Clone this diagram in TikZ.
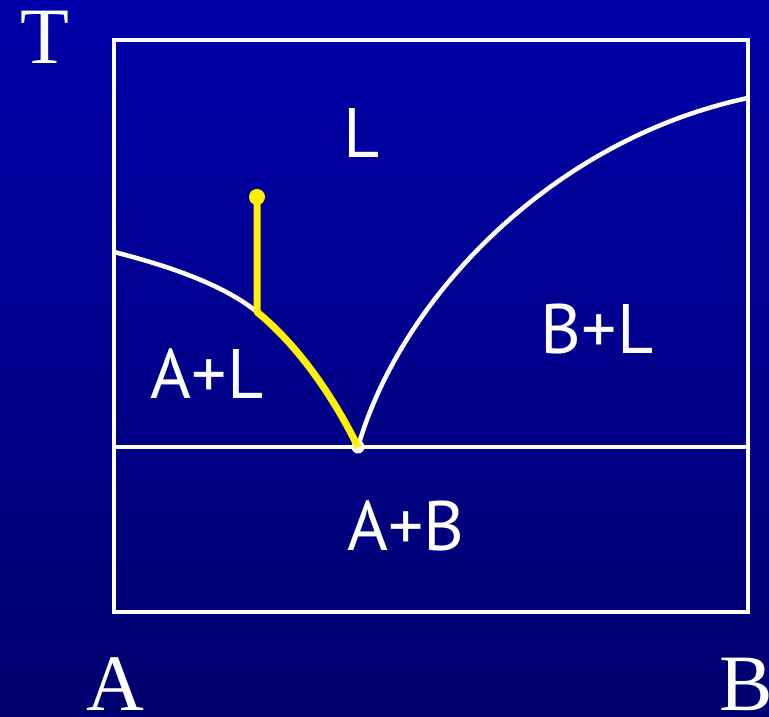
\documentclass[tikz,border=0pt]{standalone}
\usepackage{fontspec}
\setmainfont{Liberation Serif}
\newfontfamily\handfont{PT Sans}
\usetikzlibrary{positioning}
\definecolor{bgtop}{RGB}{0,0,170}
\definecolor{bgbot}{RGB}{0,0,110}

\begin{document}
\begin{tikzpicture}[
  x=1pt,y=1pt,
  phase/.style={font=\handfont\fontsize{70}{70}\selectfont,text=white,inner sep=0pt},
  axislbl/.style={font=\fontsize{80}{80}\selectfont,text=white,inner sep=0pt},
  bound/.style={draw=white,line width=4.5pt},
  cool/.style={draw=yellow,line width=7pt,line join=round},
]
  \shade[top color=bgtop,bottom color=bgbot] (0,0) rectangle (769,717);
  \useasboundingbox (0,0) rectangle (769,717);

  \coordinate (sw) at (114,105);
  \coordinate (ne) at (748,677);
  \coordinate (liqa) at (114,465);
  \coordinate (liqb) at (748,619);
  \coordinate (eut) at (358,270);
  \coordinate (ewl) at (114,270);
  \coordinate (ewr) at (748,270);
  \coordinate (hit) at (257,405);

  \draw[bound] (sw) rectangle (ne);
  \draw[bound] (ewl) -- (ewr);
  \draw[bound] (liqa) .. controls (185,447) and (230,427) .. (hit)
    .. controls (300,370) and (335,317) .. (eut);
  \draw[bound] (eut) .. controls (400,417) and (550,577) .. (liqb);
  \node[circle,fill=white,inner sep=0pt,minimum size=13pt] (e) at (eut) {};

  % cooling path
  \node[circle,fill=yellow,inner sep=0pt,minimum size=16pt] (start) at (257,520) {};
  \draw[cool] (start.center) -- (hit) .. controls (300,370) and (335,317) .. (e.center);

  \node[axislbl] (t) at (45,680) {T};
  \node[axislbl] (ca) at (115,33) {A};
  \node[axislbl] (cb) at (746,33) {B};

  \node[phase] (l) at (362,584) {L};
  \node[phase] (al) at (207,343) {A+L};
  \node[phase] (bl) at (597,388) {B+L};
  \node[phase] (ab) at (406,191) {A+B};
\end{tikzpicture}
\end{document}
